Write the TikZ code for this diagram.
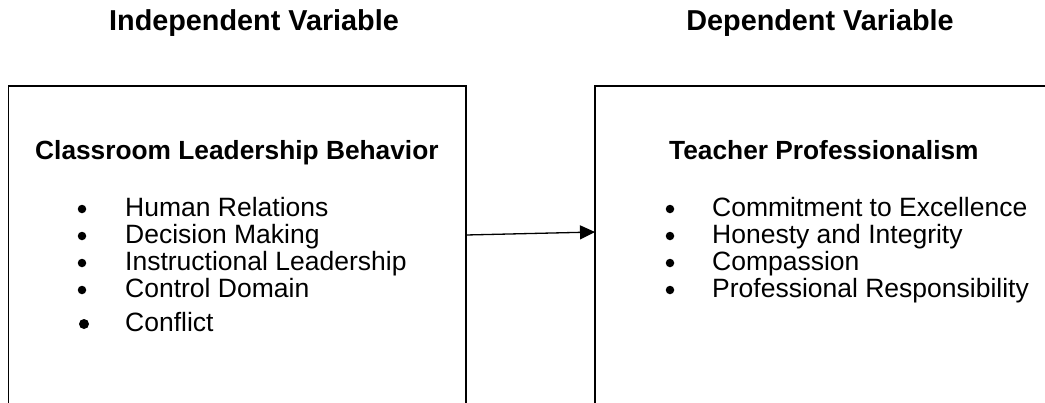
\documentclass[tikz,border=0pt]{standalone}
\usepackage{fontspec}
\setmainfont{Liberation Sans}
\usetikzlibrary{arrows.meta}
\begin{document}
\begin{tikzpicture}[x=1pt,y=-1pt,
  boxline/.style={line width=1.6pt},
  head/.style={font=\fontsize{28.8}{32}\selectfont\bfseries, anchor=base, inner sep=0pt},
  boxtitle/.style={font=\fontsize{26.3}{32}\selectfont\bfseries, anchor=base west, inner sep=0pt},
  item/.style={font=\fontsize{26.5}{32}\selectfont, anchor=base west, inner sep=0pt},
  dot/.style={circle, fill=black, inner sep=0pt, minimum size=8.5pt},
  bigdot/.style={dot, minimum size=10pt},
  conn/.style={line width=1.3pt, -{Triangle[length=15pt,width=14pt]}}]
\useasboundingbox (0,0) rectangle (1045,402);
% headings
\node[head] (hind) at (254,30) {Independent Variable};
\node[head] (hdep) at (820,30) {Dependent Variable};
% boxes
\draw[boxline] (8.5,410) -- (8.5,86) -- (466,86) -- (466,410);
\draw[boxline] (595,410) -- (595,86) -- (1050,86);
\coordinate (lout) at (466,235);
\coordinate (rin) at (595,232);
% left content
\node[boxtitle] (lt) at (35,159) {Classroom Leadership Behavior};
\foreach \t/\yy/\n in {Human Relations/216/a, Decision Making/243/b, Instructional Leadership/270/c, Control Domain/297/d}{
  \node[item] (l\n) at (125,\yy) {\t};
  \node[dot] (ld\n) at (82,\yy-7) {};
}
\node[item] (le) at (125,331) {Conflict};
\node[bigdot] (lde) at (84,324) {};
% right content
\node[boxtitle] (rt) at (669,159) {Teacher Professionalism};
\foreach \t/\yy/\n in {Commitment to Excellence/216/a, Honesty and Integrity/243/b, Compassion/270/c, Professional Responsibility/297/d}{
  \node[item] (r\n) at (712,\yy) {\t};
  \node[dot] (rd\n) at (670,\yy-7) {};
}
\draw[conn] (lout) -- (rin);
\end{tikzpicture}
\end{document}
